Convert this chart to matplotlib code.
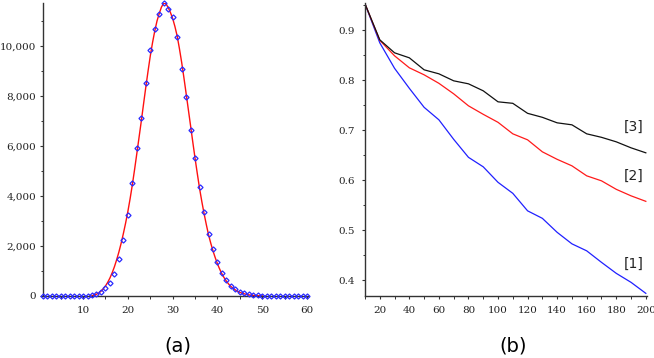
import numpy as np
import matplotlib
matplotlib.use("Agg")
import matplotlib.pyplot as plt
from matplotlib.ticker import MultipleLocator, StrMethodFormatter

# panel (a): observed counts and fitted curve
pts_x = np.arange(1, 61)
pts_y = [0, 0, 0, 0, 0, 0, 0, 0, 0, 0,
         10, 40, 80, 150, 307, 507, 867, 1480, 2240, 3253,
         4507, 5933, 7133, 8520, 9827, 10693, 11280, 11707, 11467, 11160,
         10347, 9080, 7973, 6653, 5507, 4347, 3373, 2480, 1893, 1347,
         933, 640, 413, 267, 160, 100, 60, 40, 25, 10,
         0, 0, 0, 0, 0, 0, 0, 0, 0, 0]

fit_x = np.arange(12, 50.5, 0.5)
fit_y = [15, 38, 70, 120, 190, 285, 400, 545, 720, 930,
         1170, 1450, 1760, 2110, 2500, 2920, 3380, 3890, 4450, 5060,
         5700, 6350, 7000, 7680, 8350, 8990, 9600, 10130, 10600, 11000,
         11300, 11560, 11710, 11690, 11540, 11340, 11100, 10780, 10400, 9900,
         9350, 8740, 8100, 7450, 6800, 6140, 5500, 4890, 4300, 3780,
         3300, 2860, 2450, 2110, 1800, 1530, 1280, 1070, 880, 725,
         590, 475, 380, 305, 240, 188, 145, 112, 85, 63,
         45, 32, 22, 15, 10, 6, 3]

# panel (b): three curves
n = np.arange(10, 210, 10)
s1 = [0.953, 0.875, 0.824, 0.784, 0.746, 0.721, 0.682, 0.646, 0.627, 0.596,
      0.574, 0.539, 0.524, 0.496, 0.473, 0.459, 0.436, 0.414, 0.396, 0.374]
s2 = [0.953, 0.880, 0.849, 0.825, 0.811, 0.794, 0.773, 0.749, 0.732, 0.716,
      0.693, 0.681, 0.657, 0.642, 0.629, 0.609, 0.599, 0.582, 0.569, 0.558]
s3 = [0.953, 0.881, 0.855, 0.845, 0.821, 0.813, 0.799, 0.793, 0.779, 0.757,
      0.754, 0.734, 0.726, 0.715, 0.711, 0.693, 0.686, 0.677, 0.665, 0.655]
labels = ["[1]", "[2]", "[3]"]
label_y = [0.433, 0.609, 0.707]

fig = plt.figure(figsize=(6.54, 3.58), dpi=100)
ax1 = fig.add_axes([0.0653, 0.1732, 0.4057, 0.8184])
ax2 = fig.add_axes([0.5581, 0.1732, 0.4312, 0.8184])

ax1.plot(fit_x, fit_y, color="#ff1010", lw=1.0, zorder=2)
ax1.plot(pts_x, pts_y, ls="none", marker="D", ms=2.6, mfc="none",
         mec="#2a2aff", mew=0.9, zorder=3, clip_on=False)
ax1.set_xlim(1, 60.2)
ax1.set_ylim(0, 11720)
ax1.xaxis.set_major_locator(MultipleLocator(10))
ax1.xaxis.set_minor_locator(MultipleLocator(5))
ax1.yaxis.set_major_locator(MultipleLocator(2000))
ax1.yaxis.set_minor_locator(MultipleLocator(1000))
ax1.yaxis.set_major_formatter(StrMethodFormatter("{x:,.0f}"))

ax2.plot(n, s1, color="#2020ff", lw=0.9)
ax2.plot(n, s2, color="#ff1a1a", lw=0.9)
ax2.plot(n, s3, color="#111111", lw=0.9)
for lab, yy in zip(labels, label_y):
    ax2.text(192, yy, lab, ha="center", va="center", fontsize=10,
             family="DejaVu Sans", color="#222222")
ax2.set_xlim(10, 200.8)
ax2.set_ylim(0.3687, 0.9546)
ax2.xaxis.set_major_locator(MultipleLocator(20))
ax2.xaxis.set_minor_locator(MultipleLocator(10))
ax2.yaxis.set_major_locator(MultipleLocator(0.1))
ax2.yaxis.set_minor_locator(MultipleLocator(0.05))
ax2.yaxis.set_major_formatter(StrMethodFormatter("{x:.1f}"))

for ax in (ax1, ax2):
    for side in ("top", "right"):
        ax.spines[side].set_visible(False)
    for side in ("left", "bottom"):
        ax.spines[side].set_color("#333333")
        ax.spines[side].set_linewidth(1.0)
    ax.tick_params(which="major", length=2.5, width=0.8, color="#333333",
                   labelsize=7.5, labelcolor="#222222")
    ax.tick_params(which="minor", length=1.8, width=0.7, color="#333333")
    ax.tick_params(axis="x", pad=5)
    for t in ax.get_xticklabels() + ax.get_yticklabels():
        t.set_family("DejaVu Serif")

ax1.tick_params(axis="y", pad=2)
ax2.tick_params(axis="y", pad=5)

fig.text(0.272, 0.034, "(a)", ha="center", va="center", fontsize=14)
fig.text(0.784, 0.034, "(b)", ha="center", va="center", fontsize=14)

fig.savefig("out.png", dpi=100)
